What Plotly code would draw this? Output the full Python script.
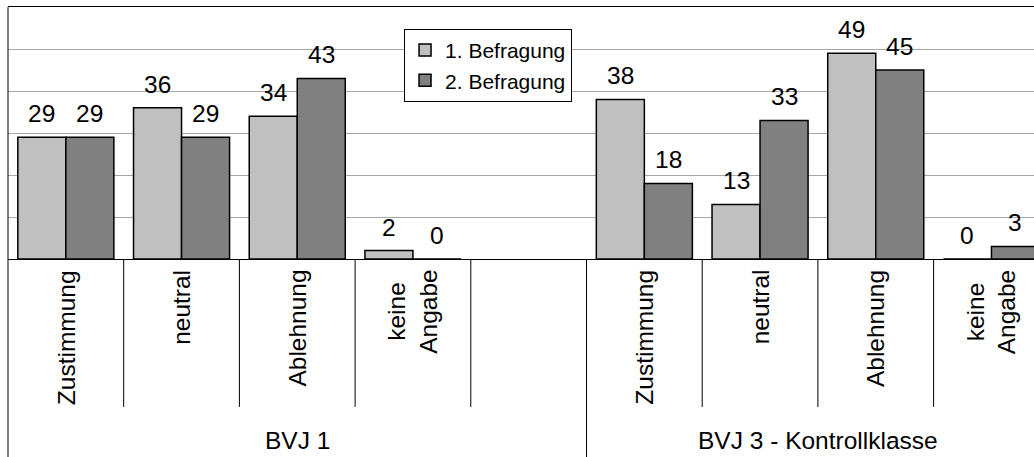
import plotly.graph_objects as go

# Survey answers (percent) for two classes, each asked twice
groups = ["BVJ 1", "BVJ 3 - Kontrollklasse"]
categories = ["Zustimmung", "neutral", "Ablehnung", "keine<br>Angabe"]
series_names = ["1. Befragung", "2. Befragung"]
befragung_1 = [29, 36, 34, 2, 38, 13, 49, 0]
befragung_2 = [29, 29, 43, 0, 18, 33, 45, 3]

series_values = [befragung_1, befragung_2]
series_colors = ["#c0c0c0", "#808080"]

FONT = "Liberation Sans, Arial, sans-serif"
LABEL_SIZE = 24.5
n_cat = len(categories)
# the first class carries one extra, empty category slot after its answers
group_slots = [n_cat + 1, n_cat]
group_start = [sum(group_slots[:g]) for g in range(len(groups))]
x_pos = [group_start[g] + i for g in range(len(groups)) for i in range(n_cat)]

BAR_W = 0.415
fig = go.Figure()
for s, (name, vals, col) in enumerate(zip(series_names, series_values, series_colors)):
    fig.add_trace(go.Bar(
        x=x_pos, y=vals, name=name, legendgroup=name,
        width=BAR_W, offset=-BAR_W + s * BAR_W,
        marker=dict(color=col, line=dict(color="black", width=1.5)),
        hoverinfo="skip",
    ))

annotations = []
# value labels above each bar
for s, vals in enumerate(series_values):
    shift = (-0.5 + s) * BAR_W
    for xp, v in zip(x_pos, vals):
        annotations.append(dict(
            x=xp + shift, y=v, xref="x", yref="y", text=str(v), showarrow=False,
            yanchor="bottom", yshift=8, font=dict(family=FONT, size=LABEL_SIZE, color="black"),
        ))

shapes = []
for g in range(len(groups)):
    # rotated category labels under the baseline
    for i, cat in enumerate(categories):
        annotations.append(dict(
            x=group_start[g] + i, y=-0.035, xref="x", yref="paper", text=cat,
            textangle=-90, showarrow=False, yanchor="top", xanchor="center", align="center",
            font=dict(family=FONT, size=LABEL_SIZE, color="black"),
        ))
    # group label centred under the group's slots
    annotations.append(dict(
        x=group_start[g] + (group_slots[g] - 1) / 2, y=-0.722, xref="x", yref="paper",
        text=groups[g], showarrow=False, yanchor="middle",
        font=dict(family=FONT, size=LABEL_SIZE, color="black"),
    ))
    # separators between slots; the one closing a group runs to the bottom edge
    for i in range(group_slots[g]):
        xb = group_start[g] + i + 0.5
        closes_group = i == group_slots[g] - 1
        shapes.append(dict(
            type="line", xref="x", yref="paper", x0=xb, x1=xb, y0=0,
            y1=-0.8 if closes_group else -0.587,
            line=dict(color="black", width=1),
        ))
# outer frame on the left
shapes.append(dict(type="line", xref="paper", yref="paper", x0=0, x1=0, y0=1, y1=-0.8,
                   line=dict(color="black", width=1)))

plot_w = 1034 - 8
slot_px = 115.7
fig.update_layout(
    width=1034, height=457,
    margin=dict(l=8, r=0, t=7, b=198),
    paper_bgcolor="white", plot_bgcolor="white",
    barmode="overlay",
    showlegend=True,
    legend=dict(
        x=0.386, y=0.913, xanchor="left", yanchor="top",
        bordercolor="black", borderwidth=1, bgcolor="white",
        font=dict(family=FONT, size=21, color="black"),
        tracegroupgap=12, traceorder="normal",
    ),
    xaxis=dict(
        range=[-0.5, -0.5 + plot_w / slot_px], showticklabels=False, ticks="",
        showgrid=False, zeroline=False, showline=True, mirror=True,
        linecolor="black", linewidth=1,
    ),
    yaxis=dict(
        range=[0, 60], dtick=10, showticklabels=False, ticks="",
        showgrid=True, gridcolor="#a8a8a8", gridwidth=1, zeroline=False, showline=False,
    ),
    annotations=annotations,
    shapes=shapes,
)

fig.write_html("out.html")
